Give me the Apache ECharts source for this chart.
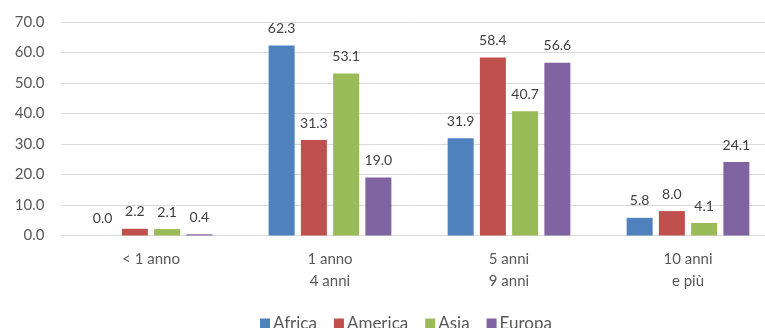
<!DOCTYPE html>
<html><head><meta charset="utf-8">
<script src="https://cdn.jsdelivr.net/npm/echarts@6/dist/echarts.min.js"></script>
<style>html,body{margin:0;padding:0;background:#fff}#c{width:765px;height:328px}</style>
</head><body><div id="c"></div>
<script>
const categories = ['< 1 anno', '1 anno\n4 anni', '5 anni\n9 anni', '10 anni\ne più'];
const seriesNames = ['Africa', 'America', 'Asia', 'Europa'];
const africa = [0.0, 62.3, 31.9, 5.8];
const america = [2.2, 31.3, 58.4, 8.0];
const asia = [2.1, 53.1, 40.7, 4.1];
const europa = [0.4, 19.0, 56.6, 24.1];
const colors = ['#4F81BD', '#C0504D', '#9BBB59', '#8064A2'];
const values = [africa, america, asia, europa];
const FONT = 'Lato';
const chart = echarts.init(document.getElementById('c'));
chart.setOption({
  animation: false,
  textStyle: { fontFamily: FONT },
  grid: { left: 61.5, width: 716, top: 22, height: 213.5, containLabel: false, outerBoundsMode: 'none' },
  legend: {
    top: 315, left: 260, padding: 0,
    itemWidth: 10, itemHeight: 10, itemGap: 17,
    icon: 'rect',
    textStyle: { fontFamily: FONT, fontSize: 17, color: '#595959', padding: [0, 0, 0, -2] },
    data: seriesNames
  },
  xAxis: {
    type: 'category', data: categories,
    axisLine: { lineStyle: { color: '#D9D9D9', width: 1 } },
    axisTick: { show: false },
    axisLabel: { fontFamily: FONT, fontSize: 15, color: '#595959', margin: 13, lineHeight: 22 }
  },
  yAxis: {
    type: 'value', min: 0, max: 70, interval: 10,
    axisLine: { show: false }, axisTick: { show: false },
    splitLine: { lineStyle: { color: '#D9D9D9', width: 1 } },
    axisLabel: { fontFamily: FONT, fontSize: 15, color: '#595959', margin: 17,
      formatter: v => v.toFixed(1) }
  },
  series: seriesNames.map((n, i) => ({
    name: n, type: 'bar', data: values[i],
    barWidth: 26, barGap: '24%',
    itemStyle: { color: colors[i] },
    label: { show: true, position: 'top', distance: 10, fontFamily: FONT, fontSize: 14, color: '#404040',
      formatter: p => p.value.toFixed(1) }
  }))
});
</script></body></html>
